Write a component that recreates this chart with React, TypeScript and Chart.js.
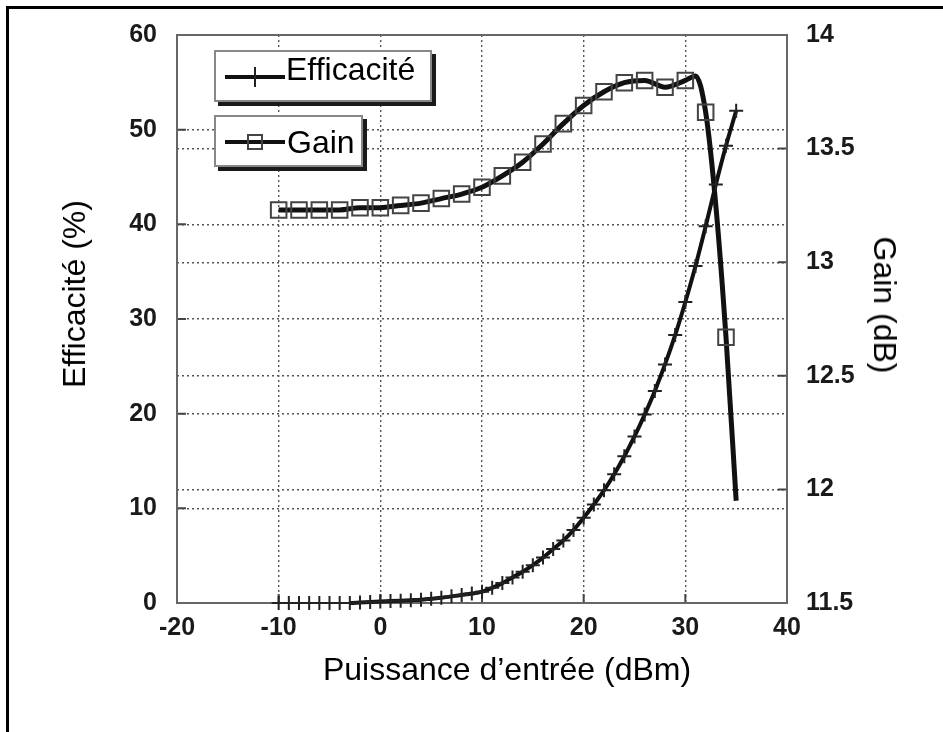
import React, { useEffect, useRef } from "react";
import { Chart, registerables } from "chart.js";

Chart.register(...registerables);

// ---- data ----
const xTicks = [-20, -10, 0, 10, 20, 30, 40];
const effTicks = [0, 10, 20, 30, 40, 50, 60];
const gainTicks = [11.5, 12, 12.5, 13, 13.5, 14];

const effX = [-10, -9, -8, -7, -6, -5, -4, -3, -2, -1, 0, 1, 2, 3, 4, 5, 6, 7, 8, 9, 10, 11, 12, 13, 14, 15, 16, 17, 18, 19, 20, 21, 22, 23, 24, 25, 26, 27, 28, 29, 30, 31, 32, 33, 34, 35];
const effY = [0, 0, 0, 0, 0, 0, 0, 0, 0.05, 0.1, 0.15, 0.2, 0.25, 0.3, 0.35, 0.45, 0.55, 0.7, 0.85, 1.0, 1.2, 1.6, 2.1, 2.7, 3.3, 4.0, 4.8, 5.7, 6.6, 7.7, 9.0, 10.4, 11.9, 13.6, 15.5, 17.6, 19.9, 22.4, 25.2, 28.3, 31.8, 35.6, 39.8, 44.2, 48.3, 52.0];

const gainX = [-10, -8, -6, -4, -2, 0, 2, 4, 6, 8, 10, 12, 14, 16, 18, 20, 22, 24, 26, 28, 30, 31, 32, 33, 34, 35];
const gainY = [13.23, 13.23, 13.23, 13.23, 13.24, 13.24, 13.25, 13.26, 13.28, 13.3, 13.33, 13.38, 13.44, 13.52, 13.61, 13.69, 13.75, 13.79, 13.8, 13.77, 13.8, 13.82, 13.66, 13.25, 12.67, 11.95];

const legendLabels = ["Efficacité", "Gain"];
const xTitle = "Puissance d’entrée (dBm)";
const yTitle = "Efficacité (%)";
const y2Title = "Gain (dB)";

// ---- layout ----
const W = 943;
const H = 732;
const PLOT = { left: 177, right: 787, top: 26, bottom: 603 };
const FONT = "'Liberation Sans', Arial, Helvetica, sans-serif";

const axisDecor = {
  id: "axisDecor",
  beforeDatasetsDraw(chart: any) {
    const { ctx, chartArea: a, scales } = chart;
    ctx.save();
    ctx.setLineDash([]);
    ctx.strokeStyle = "#444";
    ctx.lineWidth = 2;
    ctx.beginPath();
    scales.y.ticks.forEach((t: any) => {
      const py = scales.y.getPixelForValue(t.value);
      ctx.moveTo(a.left, py);
      ctx.lineTo(a.left + 9, py);
    });
    scales.y2.ticks.forEach((t: any) => {
      const py = scales.y2.getPixelForValue(t.value);
      ctx.moveTo(a.right, py);
      ctx.lineTo(a.right - 9, py);
    });
    scales.x.ticks.forEach((t: any) => {
      const px = scales.x.getPixelForValue(t.value);
      ctx.moveTo(px, a.bottom);
      ctx.lineTo(px, a.bottom - 9);
    });
    ctx.stroke();
    ctx.strokeStyle = "#666";
    ctx.lineWidth = 2;
    ctx.strokeRect(a.left, a.top, a.right - a.left, a.bottom - a.top);
    ctx.restore();
  },
};

const tickFont = { family: FONT, size: 25, weight: "bold" as const };
const gridOpts = { color: "#555", lineWidth: 1.4, drawTicks: false };
const borderOpts = { display: false, dash: [2, 3] };

export default function App() {
  const canvasRef = useRef<HTMLCanvasElement | null>(null);

  useEffect(() => {
    if (!canvasRef.current) return;
    const chart = new Chart(canvasRef.current, {
      type: "line",
      data: {
        datasets: [
          {
            label: legendLabels[0],
            data: effX.map((x, i) => ({ x, y: effY[i] })),
            yAxisID: "y",
            borderColor: "#111",
            borderWidth: 4,
            cubicInterpolationMode: "monotone",
            pointStyle: "cross",
            pointRadius: 7,
            pointBorderWidth: 2,
            pointBorderColor: "#222",
            pointBackgroundColor: "#222",
            clip: false,
            segment: {
              borderColor: (c: any) =>
                c.p0.parsed.y === 0 && c.p1.parsed.y === 0 ? "rgba(0,0,0,0)" : "#111",
            },
          } as any,
          {
            label: legendLabels[1],
            data: gainX.map((x, i) => ({ x, y: gainY[i] })),
            yAxisID: "y2",
            borderColor: "#111",
            borderWidth: 5,
            cubicInterpolationMode: "monotone",
            pointStyle: "rect",
            pointRadius: (c: any) => (gainX[c.dataIndex] % 2 === 0 ? 11 : 0),
            pointBorderWidth: 2,
            pointBorderColor: "#444",
            pointBackgroundColor: "rgba(0,0,0,0)",
            clip: false,
          } as any,
        ],
      },
      options: {
        animation: false,
        responsive: false,
        events: [],
        layout: { padding: { top: PLOT.top, left: 0, right: 0, bottom: 0 } },
        plugins: { legend: { display: false }, tooltip: { enabled: false } },
        scales: {
          x: {
            type: "linear",
            min: xTicks[0],
            max: xTicks[xTicks.length - 1],
            afterBuildTicks: (s: any) => {
              s.ticks = xTicks.map((v) => ({ value: v }));
            },
            afterFit: (s: any) => {
              s.height = H - PLOT.bottom;
            },
            grid: gridOpts,
            border: borderOpts,
            ticks: { padding: 10, font: tickFont, color: "#1a1a1a", callback: (v: any) => String(v) },
          },
          y: {
            type: "linear",
            position: "left",
            min: effTicks[0],
            max: effTicks[effTicks.length - 1],
            afterBuildTicks: (s: any) => {
              s.ticks = effTicks.map((v) => ({ value: v }));
            },
            afterFit: (s: any) => {
              s.width = PLOT.left;
            },
            grid: gridOpts,
            border: borderOpts,
            ticks: { padding: 20, font: tickFont, color: "#1a1a1a", callback: (v: any) => String(v) },
          },
          y2: {
            type: "linear",
            position: "right",
            min: gainTicks[0],
            max: gainTicks[gainTicks.length - 1],
            afterBuildTicks: (s: any) => {
              s.ticks = gainTicks.map((v) => ({ value: v }));
            },
            afterFit: (s: any) => {
              s.width = W - PLOT.right;
            },
            grid: gridOpts,
            border: borderOpts,
            ticks: { padding: 19, font: tickFont, color: "#1a1a1a", callback: (v: any) => String(v) },
          },
        },
      } as any,
      plugins: [axisDecor],
    });
    return () => chart.destroy();
  }, []);

  const titleStyle: React.CSSProperties = {
    position: "absolute",
    fontFamily: FONT,
    fontSize: 32,
    lineHeight: "32px",
    whiteSpace: "nowrap",
    color: "#000",
  };
  const legendText: React.CSSProperties = {
    position: "absolute",
    fontFamily: FONT,
    fontSize: 32,
    lineHeight: "32px",
    whiteSpace: "nowrap",
    color: "#000",
  };
  const box = (left: number, top: number, w: number, h: number): React.CSSProperties => ({
    position: "absolute",
    left,
    top,
    width: w,
    height: h,
    boxSizing: "border-box",
    border: "2px solid #888",
    background: "#fff",
    boxShadow: "4px 4px 0 #1a1a1a",
  });

  return (
    <div
      style={{
        position: "fixed",
        left: 0,
        top: 0,
        width: W,
        height: H,
        overflow: "hidden",
        background: "#fff",
      }}
    >
      <div
        style={{
          position: "absolute",
          left: 6,
          top: 6,
          width: W + 20,
          height: H + 20,
          borderLeft: "3px solid #000",
          borderTop: "3px solid #000",
        }}
      />
      <canvas
        ref={canvasRef}
        width={W}
        height={H}
        style={{ position: "absolute", left: 0, top: 0, width: W, height: H, display: "block" }}
      />
      {/* legend: Efficacité */}
      <div style={box(214, 50, 218, 52)} />
      <div style={{ position: "absolute", left: 225, top: 75, width: 60, height: 4, background: "#111" }} />
      <div style={{ position: "absolute", left: 254, top: 67, width: 2, height: 20, background: "#222" }} />
      <div style={{ ...legendText, left: 286, top: 53 }}>{legendLabels[0]}</div>
      {/* legend: Gain */}
      <div style={box(214, 115, 149, 52)} />
      <div style={{ position: "absolute", left: 225, top: 140, width: 60, height: 4, background: "#111" }} />
      <div
        style={{
          position: "absolute",
          left: 247,
          top: 134,
          width: 16,
          height: 16,
          boxSizing: "border-box",
          border: "2px solid #444",
        }}
      />
      <div style={{ ...legendText, left: 287, top: 126 }}>{legendLabels[1]}</div>
      {/* axis titles */}
      <div style={{ ...titleStyle, left: 507, top: 653, transform: "translateX(-50%)" }}>{xTitle}</div>
      <div
        style={{ ...titleStyle, left: 74, top: 294, transform: "translate(-50%, -50%) rotate(-90deg)" }}
      >
        {yTitle}
      </div>
      <div
        style={{ ...titleStyle, left: 885, top: 305, transform: "translate(-50%, -50%) rotate(90deg)" }}
      >
        {y2Title}
      </div>
    </div>
  );
}
